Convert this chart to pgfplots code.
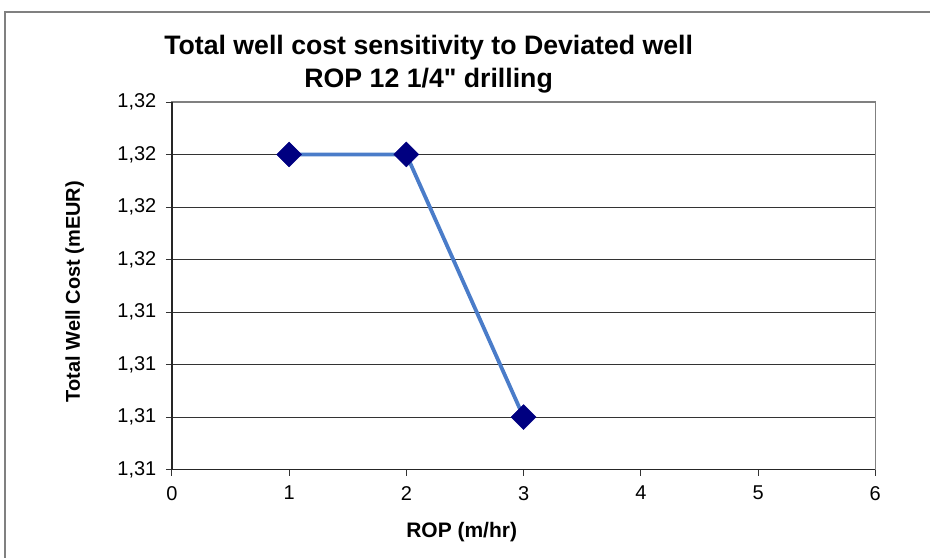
\documentclass[border=0pt]{standalone}
\usepackage{fontspec}
\setmainfont{Liberation Sans}
\newfontfamily\plainsans{Liberation Sans}
\usepackage{pgfplots}
\pgfplotsset{compat=1.18}

\definecolor{linecol}{HTML}{4A7CC9}
\definecolor{markcol}{HTML}{000080}
\definecolor{framecol}{HTML}{808080}

\begin{document}
\begin{tikzpicture}[x=1pt,y=1pt]
% page extent
\path (0,0) rectangle (931,558);
% outer chart frame, cut off on the right and bottom
\draw[framecol, line width=1.5pt] (5,0) -- (5,546) -- (931,546);

\begin{axis}[
    name=ax,
    at={(172pt,88pt)}, anchor=south west,
    scale only axis,
    width=704pt, height=368pt,
    xmin=0, xmax=6,
    ymin=1.305, ymax=1.3225,
    xtick={0,1,2,3,4,5,6},
    ytick={1.305,1.3075,1.31,1.3125,1.315,1.3175,1.32,1.3225},
    yticklabels={{1,31},{1,31},{1,31},{1,31},{1,32},{1,32},{1,32},{1,32}},
    ymajorgrids,
    grid style={black!80, line width=0.8pt},
    axis line style={framecol, line width=1.2pt},
    tick align=outside,
    major tick length=6pt,
    tick style={black!80, line width=0.8pt},
    xtick pos=bottom, ytick pos=left,
    ticklabel style={font=\fontsize{20}{22}\selectfont},
    yticklabel style={xshift=-6pt},
    xticklabel style={yshift=-7pt},
    /pgf/number format/assume math mode=true,
    xlabel={\textbf{ROP (m/hr)}},
    ylabel={\textbf{Total Well Cost (mEUR)}},
    xlabel style={font=\fontsize{21}{24}\selectfont,
        at={(axis description cs:0.412,-0.171)}, anchor=center},
    ylabel style={font=\fontsize{20}{23}\selectfont,
        at={(axis description cs:-0.138,0.484)}, anchor=center},
    clip=false,
]
\addplot[linecol, line width=3.8pt, mark=square*, mark size=8.8pt,
    mark options={rotate=45, fill=markcol, draw=markcol, line width=0.5pt}]
    coordinates {(1,1.32) (2,1.32) (3,1.3075)};
\end{axis}

\draw[black!85, line width=1.5pt] (ax.north west) |- (ax.south east);

\node[font=\plainsans\bfseries\fontsize{26.7}{33}\selectfont, align=center] at (429,494)
  {Total well cost sensitivity to Deviated well\\ROP 12 1/4" drilling};
\end{tikzpicture}
\end{document}
